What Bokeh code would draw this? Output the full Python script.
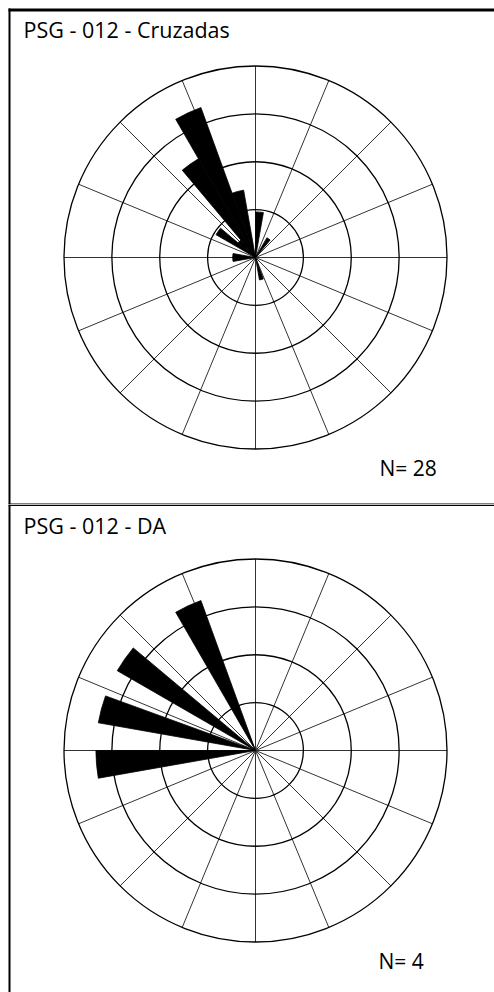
import numpy as np
from bokeh.plotting import figure
from bokeh.layouts import column
from bokeh.models import Range1d, Label, BoxAnnotation
from bokeh.embed import file_html
from bokeh.resources import INLINE

# ---- data ----
titles = ["PSG - 012 - Cruzadas", "PSG - 012 - DA"]
n_labels = ["N= 28", "N= 4"]
n_totals = [28, 4]
bin_width = 10
cruz_az = [0, 30, 160, 260, 270, 300, 310, 320, 330, 340]
cruz_counts = [2, 1, 1, 1, 1, 2, 1, 5, 7, 3]
da_az = [260, 280, 300, 330]
da_counts = [1, 1, 1, 1]
ring_pct = [7.5, 15, 22.5, 30]
spoke_az = list(np.arange(0, 360, 22.5))

W = 494
SCALE = 191.5 / 30.0  # px per percent
CX = 255


def rose(title, nlab, az, counts, total, height, cy, title_base, n_x, n_base, top_border):
    def xd(px):
        return (px - CX) / SCALE

    def yd(py):
        return (cy - py) / SCALE

    p = figure(width=W, height=height, output_backend="svg", toolbar_location=None,
               x_range=Range1d(xd(0), xd(W)), y_range=Range1d(yd(height), yd(0)),
               min_border=0, x_axis_location=None, y_axis_location=None)
    p.grid.visible = False
    p.outline_line_color = None
    p.background_fill_color = "white"

    R = ring_pct[-1]
    ang = np.radians(90 - np.array(spoke_az))
    p.segment(x0=[0] * len(ang), y0=[0] * len(ang), x1=R * np.cos(ang), y1=R * np.sin(ang),
              line_color="#333333", line_width=1.0)
    p.circle(x=[0] * len(ring_pct), y=[0] * len(ring_pct), radius=ring_pct,
             fill_color=None, line_color="black", line_width=1.3)

    az = np.array(az, dtype=float)
    pct = np.array(counts, dtype=float) / total * 100.0
    p.wedge(x=[0] * len(az), y=[0] * len(az), radius=pct,
            start_angle=np.radians(90 - az - bin_width), end_angle=np.radians(90 - az),
            fill_color="black", line_color="black", line_width=0.8)

    p.add_layout(Label(x=23, y=height - title_base, x_units="screen", y_units="screen",
                       text=title, text_font="Open Sans", text_font_size="21.5px",
                       text_baseline="alphabetic", text_color="black"))
    p.add_layout(Label(x=n_x, y=height - n_base, x_units="screen", y_units="screen",
                       text=nlab, text_font="Open Sans", text_font_size="21px",
                       text_baseline="alphabetic", text_color="black"))

    # frame lines
    top_y0 = 0 if top_border == 0 else 8
    p.add_layout(BoxAnnotation(left=xd(8), right=xd(10), top=yd(top_y0), bottom=yd(height),
                               fill_color="black", fill_alpha=1, line_color=None))
    if top_border:
        p.add_layout(BoxAnnotation(left=xd(8), right=xd(W), top=yd(8), bottom=yd(11),
                                   fill_color="black", fill_alpha=1, line_color=None))
    else:
        p.add_layout(BoxAnnotation(left=xd(8), right=xd(W), top=yd(0), bottom=yd(1.5),
                                   fill_color="black", fill_alpha=1, line_color=None))
    return p


p1 = rose(titles[0], n_labels[0], cruz_az, cruz_counts, n_totals[0], 504, 257, 29, 379, 467, 1)
p1.add_layout(BoxAnnotation(left=(8 - CX) / SCALE, right=(W - CX) / SCALE,
                            top=(257 - 503) / SCALE, bottom=(257 - 504) / SCALE,
                            fill_color="black", fill_alpha=1, line_color=None))
p2 = rose(titles[1], n_labels[1], da_az, da_counts, n_totals[1], 488, 246, 21, 378, 456, 0)

layout = column(p1, p2, spacing=0)
open("out.html", "w").write(file_html(layout, INLINE))
